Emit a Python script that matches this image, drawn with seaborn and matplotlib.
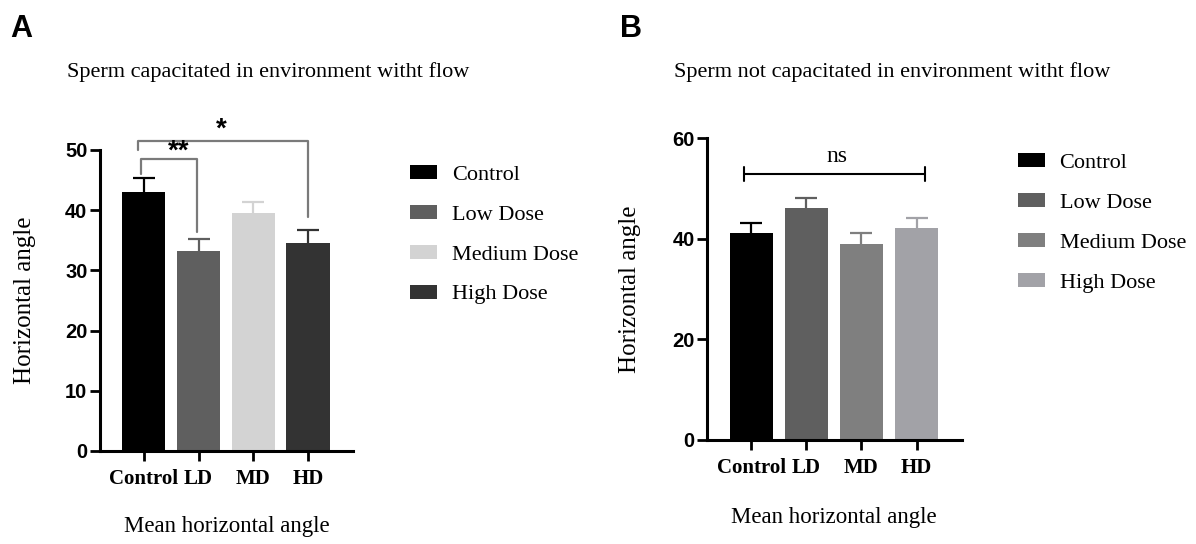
import matplotlib
matplotlib.use("Agg")
import matplotlib.pyplot as plt
from matplotlib.patches import Patch
import seaborn as sns
import numpy as np

# ---------------- data ----------------
categories = ["Control", "LD", "MD", "HD"]
legend_labels = ["Control", "Low Dose", "Medium Dose", "High Dose"]

values_a = [43.0, 33.3, 39.5, 34.6]
errors_a = [2.4, 1.9, 1.9, 2.1]
colors_a = ["#000000", "#5f5f5f", "#d3d3d3", "#333333"]

values_b = [41.1, 46.1, 39.0, 42.1]
errors_b = [2.1, 2.0, 2.1, 2.0]
colors_b = ["#000000", "#5f5f5f", "#7f7f7f", "#a2a2a7"]

title_a = "Sperm capacitated in environment witht flow"
title_b = "Sperm not capacitated in environment witht flow"
ylabel = "Horizontal angle"
xlabel = "Mean horizontal angle"

sns.set_theme(style="ticks")
plt.rcParams["font.family"] = ["Liberation Serif", "DejaVu Sans"]
plt.rcParams["text.color"] = "black"
plt.rcParams["axes.labelcolor"] = "black"
plt.rcParams["xtick.color"] = "black"
plt.rcParams["ytick.color"] = "black"

fig = plt.figure(figsize=(11.96, 5.44), dpi=100)
axA = fig.add_axes([0.0836, 0.1710, 0.2115, 0.5533])
axB = fig.add_axes([0.5914, 0.1912, 0.2127, 0.5546])


def draw_panel(ax, vals, errs, cols, ymax, ystep):
    sns.barplot(x=categories, y=vals, hue=categories, order=categories,
                hue_order=categories, palette=cols, width=0.79, saturation=1,
                errorbar=None, legend=False, edgecolor="none", ax=ax)
    for i, (v, e, c) in enumerate(zip(vals, errs, cols)):
        _, caps, _ = ax.errorbar(i, v, yerr=[[0], [e]], color=c, capsize=8,
                                 elinewidth=1.6, capthick=1.6, zorder=3)
        # keep only the upper cap (one-sided error bar)
        for cap in caps:
            if np.allclose(cap.get_ydata(), v):
                cap.set_visible(False)
    ax.set_xlim(-0.8, 3.82)
    ax.set_ylim(0, ymax)
    ax.set_yticks(np.arange(0, ymax + 1, ystep))
    sns.despine(ax=ax)
    for s in ("left", "bottom"):
        ax.spines[s].set_linewidth(2.2)
        ax.spines[s].set_color("black")
    ax.tick_params(axis="both", width=2, length=7, color="black",
                   labelcolor="black")
    ax.tick_params(axis="y", pad=2)
    ax.tick_params(axis="x", pad=6)
    for t in ax.get_yticklabels():
        t.set_fontfamily("Liberation Sans")
        t.set_fontweight("bold")
        t.set_fontsize(14.5)
    for t in ax.get_xticklabels():
        t.set_fontfamily("Liberation Serif")
        t.set_fontweight("bold")
        t.set_fontsize(15)
    ax.set_ylabel(ylabel, fontsize=18, color="black")
    ax.set_xlabel(xlabel, fontsize=16.5, va="top", color="black")


draw_panel(axA, values_a, errors_a, colors_a, 50, 10)
draw_panel(axB, values_b, errors_b, colors_b, 60, 20)

axA.yaxis.set_label_coords(-0.253, 0.5)
axA.xaxis.set_label_coords(0.5, -0.216)
axB.yaxis.set_label_coords(-0.26, 0.5)
axB.xaxis.set_label_coords(0.498, -0.222)

# ---- significance brackets (panel A) ----
gray = "#7a7a7a"
axA.plot([-0.06, -0.06, 0.97, 0.97], [46.0, 48.5, 48.5, 36.4], color=gray,
         lw=1.6, clip_on=False)
axA.text(0.63, 47.5, "**", ha="center", va="bottom", fontsize=20,
         fontweight="bold", family="Liberation Sans", color="black")
axA.plot([-0.1, -0.1, 3.0, 3.0], [50.0, 51.5, 51.5, 38.9], color=gray,
         lw=1.6, clip_on=False)
axA.text(1.41, 51.3, "*", ha="center", va="bottom", fontsize=20,
         fontweight="bold", family="Liberation Sans", color="black")

# ---- ns bracket (panel B) ----
axB.plot([-0.14, 3.16], [52.9, 52.9], color="black", lw=1.5, clip_on=False)
axB.plot([-0.14, -0.14], [51.6, 54.2], color="black", lw=1.5, clip_on=False)
axB.plot([3.16, 3.16], [51.6, 54.2], color="black", lw=1.5, clip_on=False)
axB.text(1.55, 54.3, "ns", ha="center", va="bottom", fontsize=17,
         color="black")

# ---- legends ----
for ax, cols, anchor in ((axA, colors_a, (0.3428, 0.697)),
                         (axB, colors_b, (0.851, 0.7186))):
    handles = [Patch(facecolor=c, edgecolor="none") for c in cols]
    leg = ax.legend(handles, legend_labels, loc="upper left",
                    bbox_to_anchor=anchor, bbox_transform=fig.transFigure,
                    frameon=False,
                    prop={"family": "Liberation Serif", "size": 16},
                    handlelength=1.22, handleheight=0.59, handletextpad=0.66,
                    labelspacing=0.905, borderpad=0, borderaxespad=0)
    for t in leg.get_texts():
        t.set_color("black")

# ---- titles and panel letters ----
fig.text(268 / 1196, 1 - 72 / 544, title_a, ha="center", va="center",
         fontsize=16, color="black")
fig.text(892 / 1196, 1 - 72 / 544, title_b, ha="center", va="center",
         fontsize=16, color="black")
fig.text(10 / 1196, 1 - 29 / 544, "A", ha="left", va="center", fontsize=22,
         fontweight="bold", family="Liberation Sans", color="black")
fig.text(620 / 1196, 1 - 29 / 544, "B", ha="left", va="center", fontsize=22,
         fontweight="bold", family="Liberation Sans", color="black")

fig.savefig("out.png", dpi=100)
